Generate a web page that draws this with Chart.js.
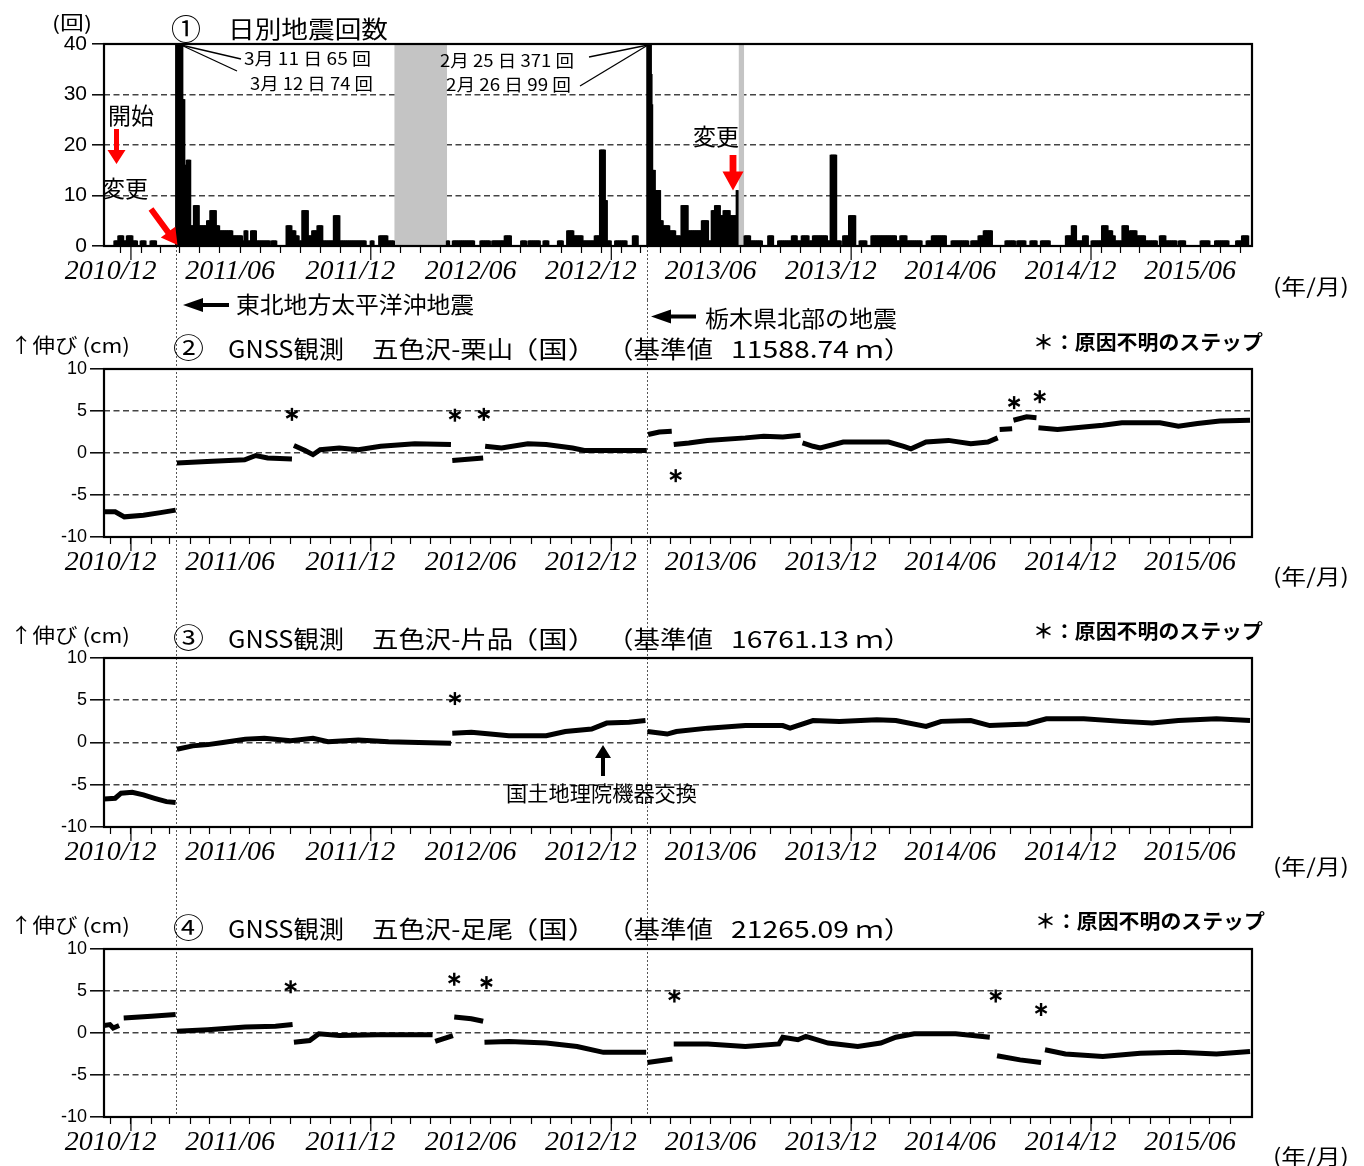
<!DOCTYPE html>
<html><head><meta charset="utf-8">
<script src="https://cdn.jsdelivr.net/npm/chart.js@4.4.1/dist/chart.umd.min.js"></script>
<style>
html,body{margin:0;padding:0;background:#fff;}
#page{position:relative;width:1364px;height:1166px;overflow:hidden;background:#fff;}
#page canvas{position:absolute;left:0;}
.t{position:absolute;white-space:nowrap;font-family:"Noto Sans CJK JP","Noto Sans",sans-serif;line-height:1;color:#000;transform-origin:0 0;}
#ov{position:absolute;left:0;top:0;pointer-events:none;}
</style></head><body>
<div id="page">
<canvas id="c1" width="1364" height="300" style="top:0px;width:1364px;height:300px"></canvas>
<canvas id="c2" width="1364" height="290" style="top:300px;width:1364px;height:290px"></canvas>
<canvas id="c3" width="1364" height="290" style="top:590px;width:1364px;height:290px"></canvas>
<canvas id="c4" width="1364" height="286" style="top:880px;width:1364px;height:286px"></canvas>
<svg id="ov" width="1364" height="1166"></svg>
</div>
<script>
// ---------------- DATA ----------------
const axisStart = '2010-11-21', axisEnd = '2015-09-03';
const tickLabels = ['2010/12','2011/06','2011/12','2012/06','2012/12','2013/06','2013/12','2014/06','2014/12','2015/06'];
const eventDates = ['2011-03-11','2013-02-25'];
const grayFrom = ['2012-02-06','2013-07-14'];
const grayTo   = ['2012-04-25','2013-07-21'];

// daily earthquake counts, as runs of days with the same count
const quakeFrom = ['2010-12-07','2010-12-13','2010-12-21','2010-12-26','2011-01-04','2011-01-16','2011-01-31',
'2011-03-11','2011-03-12','2011-03-13','2011-03-14','2011-03-15','2011-03-16','2011-03-17','2011-03-18','2011-03-19',
'2011-03-21','2011-03-24','2011-03-27','2011-04-02','2011-04-07','2011-04-15','2011-04-27','2011-05-02','2011-05-11',
'2011-05-16','2011-06-05','2011-06-20','2011-06-23','2011-06-28','2011-07-03','2011-07-11','2011-08-03','2011-08-26',
'2011-09-03','2011-09-09','2011-09-14','2011-09-19','2011-09-28','2011-10-04','2011-10-12','2011-10-20','2011-11-06',
'2011-11-15','2012-01-01','2012-01-14','2012-01-27','2012-04-26','2012-05-05','2012-06-16','2012-07-04','2012-07-23',
'2012-08-17','2012-08-28','2012-09-20','2012-10-12','2012-10-26','2012-11-05','2012-11-19','2012-12-07','2012-12-15',
'2012-12-23','2012-12-26','2013-01-07','2013-02-03','2013-02-25','2013-02-26','2013-02-27','2013-02-28','2013-03-01',
'2013-03-02','2013-03-03','2013-03-04','2013-03-05','2013-03-09','2013-03-17','2013-03-21','2013-03-31','2013-04-09',
'2013-04-18','2013-04-28','2013-05-02','2013-05-19','2013-05-29','2013-06-03','2013-06-08','2013-06-16','2013-06-21',
'2013-07-01','2013-07-11','2013-07-23','2013-08-01','2013-08-28','2013-09-12','2013-10-03','2013-10-11','2013-10-18',
'2013-10-29','2013-11-04','2013-11-26','2013-12-01','2013-12-10','2013-12-20','2013-12-29','2014-01-14','2014-02-01',
'2014-02-06','2014-02-18','2014-03-11','2014-03-17','2014-03-27','2014-04-26','2014-05-04','2014-06-03','2014-07-03',
'2014-07-14','2014-07-22','2014-08-24','2014-09-11','2014-10-01','2014-10-17','2014-11-24','2014-12-03','2014-12-10',
'2014-12-20','2015-01-02','2015-01-18','2015-01-27','2015-02-03','2015-02-07','2015-02-18','2015-02-27','2015-03-01',
'2015-03-12','2015-03-16','2015-03-25','2015-04-16','2015-04-25','2015-05-15','2015-06-17','2015-07-09','2015-08-10',
'2015-08-19'];
const quakeTo = ['2010-12-12','2010-12-20','2010-12-25','2011-01-03','2011-01-10','2011-01-23','2011-02-08',
'2011-03-11','2011-03-12','2011-03-13','2011-03-14','2011-03-15','2011-03-16','2011-03-17','2011-03-18','2011-03-20',
'2011-03-23','2011-03-26','2011-04-01','2011-04-06','2011-04-14','2011-04-26','2011-05-01','2011-05-10','2011-05-15',
'2011-06-04','2011-06-19','2011-06-22','2011-06-27','2011-07-02','2011-07-10','2011-07-31','2011-08-10','2011-09-02',
'2011-09-08','2011-09-13','2011-09-18','2011-09-27','2011-10-03','2011-10-11','2011-10-19','2011-11-05','2011-11-14',
'2011-12-24','2012-01-05','2012-01-26','2012-02-05','2012-04-29','2012-06-06','2012-06-30','2012-07-22','2012-08-01',
'2012-08-24','2012-09-14','2012-09-27','2012-10-19','2012-11-04','2012-11-18','2012-12-06','2012-12-14','2012-12-22',
'2012-12-25','2012-12-31','2013-01-24','2013-02-10','2013-02-25','2013-02-26','2013-02-27','2013-02-28','2013-03-01',
'2013-03-02','2013-03-03','2013-03-04','2013-03-08','2013-03-16','2013-03-20','2013-03-30','2013-04-08','2013-04-16',
'2013-04-27','2013-05-01','2013-05-18','2013-05-28','2013-06-02','2013-06-07','2013-06-15','2013-06-20','2013-06-30',
'2013-07-10','2013-07-12','2013-07-31','2013-08-18','2013-09-04','2013-10-02','2013-10-10','2013-10-17','2013-10-28',
'2013-11-03','2013-11-25','2013-11-30','2013-12-09','2013-12-16','2013-12-28','2014-01-07','2014-01-24','2014-02-05',
'2014-02-17','2014-03-10','2014-03-16','2014-03-26','2014-04-18','2014-05-03','2014-05-25','2014-06-28','2014-07-13',
'2014-07-21','2014-08-03','2014-09-07','2014-09-23','2014-10-10','2014-10-30','2014-12-02','2014-12-09','2014-12-19',
'2014-12-27','2015-01-17','2015-01-26','2015-02-02','2015-02-06','2015-02-17','2015-02-26','2015-02-28','2015-03-11',
'2015-03-15','2015-03-24','2015-04-11','2015-04-24','2015-05-11','2015-05-24','2015-06-30','2015-07-29','2015-08-18',
'2015-08-28'];
const quakeCount = [1,2,1,2,1,1,1,
65,74,58,50,46,44,42,41,40,
29,16,17,4,8,4,5,7,4,
3,2,1,3,1,3,1,1,4,
3,2,1,7,2,3,4,1,6,
1,1,2,1,1,1,1,1,2,
1,1,1,1,3,2,1,2,19,
9,1,1,2,371,99,62,50,44,
40,34,28,15,11,5,4,3,2,
8,3,3,5,1,7,8,6,7,
6,11,2,1,2,1,2,1,2,
1,2,1,18,1,2,6,1,2,
2,2,1,2,1,1,2,1,1,
2,3,1,1,1,1,2,4,1,
2,1,4,3,2,1,4,1,3,
2,2,1,2,1,1,1,1,1,
2];

// GNSS baseline: 五色沢-栗山 (null = break at a step)
const kuriDates = ['2010-11-21','2010-12-08','2010-12-22','2011-01-20','2011-02-15','2011-03-10','2011-03-11',
'2011-03-12','2011-04-27','2011-06-23','2011-07-10','2011-07-28','2011-09-03','2011-09-05',
'2011-09-06','2011-09-23','2011-10-05','2011-10-16','2011-11-14','2011-12-13','2012-01-16','2012-03-08','2012-05-02','2012-05-03',
'2012-05-04','2012-06-20','2012-06-21',
'2012-06-23','2012-07-18','2012-08-27','2012-09-24','2012-11-03','2012-11-21','2013-02-24','2013-02-25',
'2013-02-26','2013-03-15','2013-04-03','2013-04-05',
'2013-04-06','2013-04-29','2013-05-27','2013-07-24','2013-08-21','2013-09-19','2013-10-16','2013-10-18',
'2013-10-19','2013-11-04','2013-11-15','2013-12-20','2014-02-27','2014-03-22','2014-04-02','2014-04-25','2014-05-29','2014-07-02','2014-07-28','2014-08-12','2014-08-14',
'2014-08-15','2014-09-03','2014-09-04',
'2014-09-05','2014-09-25','2014-10-10','2014-10-12',
'2014-10-13','2014-11-11','2014-12-21','2015-01-19','2015-02-17','2015-04-16','2015-05-14','2015-06-12','2015-07-16','2015-08-31'];
const kuriValues = [-7.0,-7.0,-7.6,-7.4,-7.1,-6.8,null,
-1.2,-1.0,-0.8,-0.3,-0.6,-0.7,null,
0.9,0.3,-0.2,0.4,0.6,0.4,0.8,1.1,1.0,null,
-0.9,-0.6,null,
0.8,0.6,1.1,1.0,0.6,0.3,0.3,null,
2.2,2.5,2.6,null,
1.0,1.2,1.5,1.8,2.0,1.9,2.1,null,
1.2,0.8,0.6,1.3,1.3,0.8,0.5,1.3,1.5,1.1,1.3,1.8,null,
2.8,2.9,null,
3.9,4.3,4.2,null,
3.0,2.8,3.1,3.3,3.6,3.6,3.2,3.5,3.8,3.9];
const kuriStepDates = ['2011-09-03','2012-05-08','2012-06-21','2013-04-09','2014-09-06','2014-10-15'];
const kuriStepY = [4.6,4.5,4.6,-2.7,6.0,6.7];

// GNSS baseline: 五色沢-片品
const kataDates = ['2010-11-21','2010-12-08','2010-12-17','2011-01-03','2011-01-20','2011-02-06','2011-02-24','2011-03-10','2011-03-11',
'2011-03-12','2011-04-05','2011-04-28','2011-05-21','2011-06-24','2011-07-23','2011-09-01','2011-10-05','2011-10-28','2011-12-13','2012-01-28','2012-03-14','2012-05-02','2012-05-03',
'2012-05-04','2012-06-02','2012-07-01','2012-07-29','2012-09-24','2012-10-23','2012-12-02','2012-12-25','2013-01-28','2013-02-22','2013-02-24',
'2013-02-25','2013-03-27','2013-04-10','2013-05-28','2013-07-24','2013-09-19','2013-09-30','2013-11-04','2013-12-14','2014-02-09','2014-03-10','2014-04-25','2014-05-18','2014-07-02','2014-07-31','2014-09-26','2014-10-25','2014-12-21','2015-02-17','2015-04-04','2015-05-14','2015-07-11','2015-08-31'];
const kataValues = [-6.7,-6.6,-6.0,-5.9,-6.2,-6.6,-7.0,-7.1,null,
-0.8,-0.4,-0.25,0.0,0.4,0.5,0.2,0.5,0.1,0.3,0.1,0.0,-0.1,null,
1.1,1.2,1.0,0.8,0.8,1.3,1.6,2.3,2.4,2.6,null,
1.3,1.0,1.3,1.7,2.0,2.0,1.7,2.6,2.5,2.7,2.6,1.9,2.5,2.6,2.0,2.2,2.8,2.8,2.5,2.3,2.6,2.8,2.6];
const kataStepDates = ['2012-05-08'];
const kataStepY = [5.2];

// GNSS baseline: 五色沢-足尾
const ashioDates = ['2010-11-21','2010-11-30','2010-12-05','2010-12-14','2010-12-17',
'2010-12-21','2011-02-01','2011-03-10','2011-03-11',
'2011-03-12','2011-04-28','2011-06-24','2011-08-09','2011-09-04','2011-09-05',
'2011-09-06','2011-09-30','2011-10-14','2011-11-14','2012-01-11','2012-04-04','2012-04-06',
'2012-04-08','2012-05-05','2012-05-06',
'2012-05-07','2012-06-02','2012-06-20','2012-06-21',
'2012-06-22','2012-07-29','2012-08-27','2012-09-24','2012-11-10','2012-12-20','2013-02-23','2013-02-24',
'2013-02-25','2013-04-04','2013-04-05',
'2013-04-06','2013-05-28','2013-07-24','2013-09-13','2013-09-19','2013-10-12','2013-10-24','2013-11-27','2014-01-11','2014-02-15','2014-03-10','2014-04-07','2014-06-09','2014-07-31','2014-08-09',
'2014-08-11','2014-09-15','2014-10-17','2014-10-20',
'2014-10-23','2014-11-23','2015-01-19','2015-03-17','2015-05-14','2015-07-11','2015-08-31'];
const ashioValues = [0.9,1.0,0.6,0.9,null,
1.8,2.0,2.2,null,
0.2,0.4,0.7,0.8,1.0,null,
-1.1,-0.9,-0.1,-0.3,-0.2,-0.2,null,
-1.0,-0.3,null,
1.9,1.7,1.4,null,
-1.1,-1.0,-1.1,-1.2,-1.6,-2.3,-2.3,null,
-3.5,-3.1,null,
-1.3,-1.3,-1.6,-1.3,-0.5,-0.8,-0.4,-1.2,-1.6,-1.2,-0.5,-0.1,-0.1,-0.5,null,
-2.7,-3.2,-3.5,null,
-2.0,-2.5,-2.8,-2.4,-2.3,-2.5,-2.2];
const ashioStepDates = ['2011-09-01','2012-05-07','2012-06-25','2013-04-07','2014-08-09','2014-10-17'];
const ashioStepY = [5.5,6.4,6.0,4.4,4.4,2.8];

// ---------------- HELPERS ----------------
const BASE = Date.UTC(2011,0,1);
function day(s){const p=s.split('-').map(Number);return (Date.UTC(p[0],p[1]-1,p[2])-BASE)/86400000;}

const monthTicks=[], yearTicks=[], labelFor={};
for(let y=2010,m=12; y<2015 || (y===2015 && m<=8); ){
  const mm=String(m).padStart(2,'0');
  const v=day(y+'-'+mm+'-01');
  monthTicks.push(v);
  if(m===1) yearTicks.push(v);
  const lab=y+'/'+mm;
  if(tickLabels.includes(lab)) labelFor[v]=lab;
  m++; if(m>12){m=1;y++;}
}

function xAxis(){
  return {
    type:'linear', min:day(axisStart), max:day(axisEnd), offset:false,
    afterBuildTicks:s=>{s.ticks=monthTicks.map(v=>({value:v}));},
    ticks:{autoSkip:false,maxRotation:0,minRotation:0,padding:2,color:'#000',
      font:{family:'"Liberation Serif", serif',style:'italic',size:28},
      callback:v=>labelFor[v]||''},
    grid:{display:true,drawOnChartArea:false,drawTicks:true,tickLength:7,tickColor:'#000',tickWidth:1.2},
    border:{display:false},
    afterFit:s=>{s.height=40;}
  };
}

const framePlugin={id:'frame',afterDatasetsDraw(chart){
  const {ctx,chartArea:a}=chart; ctx.save(); ctx.strokeStyle='#000'; ctx.lineWidth=2.2;
  ctx.strokeRect(a.left,a.top,a.right-a.left,a.bottom-a.top); ctx.restore();}};
const yearTickPlugin={id:'yearTicks',afterDraw(chart){
  const {ctx,chartArea:a,scales:{x}}=chart; ctx.save(); ctx.strokeStyle='#000'; ctx.lineWidth=1.2;
  yearTicks.forEach(v=>{const px=x.getPixelForValue(v); ctx.beginPath(); ctx.moveTo(px,a.bottom); ctx.lineTo(px,a.bottom+14); ctx.stroke();});
  ctx.restore();}};
function eventPlugin(mode){return {id:'events',beforeDatasetsDraw(chart){
  const {ctx,chartArea:a,scales:{x}}=chart; let y1=0,y2=chart.height;
  if(mode==='first') y1=a.bottom; if(mode==='last') y2=a.bottom;
  ctx.save(); ctx.strokeStyle='#555'; ctx.lineWidth=1; ctx.setLineDash([2,2]);
  eventDates.forEach(d=>{const px=Math.round(x.getPixelForValue(day(d)))+0.5; ctx.beginPath(); ctx.moveTo(px,y1); ctx.lineTo(px,y2); ctx.stroke();});
  ctx.restore();}};}
const grayPlugin={id:'gray',beforeDatasetsDraw(chart){
  const {ctx,chartArea:a,scales:{x}}=chart; ctx.save(); ctx.fillStyle='#c4c4c4';
  grayFrom.forEach((f,i)=>{const x1=x.getPixelForValue(day(f)), x2=x.getPixelForValue(day(grayTo[i])+1); ctx.fillRect(x1,a.top,x2-x1,a.bottom-a.top);});
  ctx.restore();}};
function starPlugin(dates,ys){return {id:'stars',afterDatasetsDraw(chart){
  const {ctx,scales:{x,y}}=chart; ctx.save(); ctx.strokeStyle='#000'; ctx.lineWidth=2.4;
  dates.forEach((d,i)=>{const px=x.getPixelForValue(day(d)), py=y.getPixelForValue(ys[i]), r=6.5;
    [90,30,150].forEach(a=>{const t=a*Math.PI/180, dx=Math.cos(t)*r, dy=Math.sin(t)*r;
      ctx.beginPath(); ctx.moveTo(px-dx,py-dy); ctx.lineTo(px+dx,py+dy); ctx.stroke();});});
  ctx.restore();}};}

const common={responsive:false,animation:false,devicePixelRatio:1,events:[],
  plugins:{legend:{display:false},tooltip:{enabled:false}}};

// ---------------- CHART 1 ----------------
const quakeDaily=[];
quakeFrom.forEach((f,i)=>{for(let d=day(f);d<=day(quakeTo[i]);d++) quakeDaily.push({x:d,y:quakeCount[i]});});

new Chart(document.getElementById('c1'),{
  type:'bar',
  data:{datasets:[{data:quakeDaily,backgroundColor:'#000',borderWidth:0,barThickness:1.7}]},
  options:Object.assign({},common,{
    layout:{padding:{top:44,left:0,right:112,bottom:14}},
    scales:{
      x:xAxis(),
      y:{min:0,max:40,
        afterBuildTicks:s=>{s.ticks=[0,5,10,15,20,25,30,35,40].map(v=>({value:v}));},
        ticks:{color:'#000',padding:5,font:{family:'"Liberation Sans", sans-serif',size:21},callback:v=>v%10===0?String(v):''},
        grid:{color:c=>(c.tick&&(c.tick.value===0||c.tick.value===40))?'rgba(0,0,0,0)':'#444',lineWidth:1.6,tickLength:12,tickColor:c=>(c.tick&&c.tick.value%10===0)?'#000':'#444',tickWidth:1.5},
        border:{display:false,dash:[6,3.5]},
        afterFit:s=>{s.width=104;}}
    }}),
  plugins:[grayPlugin,eventPlugin('first'),framePlugin,yearTickPlugin]
});

// ---------------- GNSS CHARTS ----------------
function gnss(id,dates,values,sd,sy,padTop,padBottom,mode){
  const data=dates.map((d,i)=>({x:day(d),y:values[i]}));
  new Chart(document.getElementById(id),{
    type:'line',
    data:{datasets:[{data:data,borderColor:'#000',borderWidth:5,pointRadius:0,tension:0,spanGaps:false,fill:false,borderCapStyle:'butt'}]},
    options:Object.assign({},common,{
      layout:{padding:{top:padTop,left:0,right:112,bottom:padBottom}},
      scales:{
        x:xAxis(),
        y:{min:-10,max:10,
          afterBuildTicks:s=>{s.ticks=[-10,-5,0,5,10].map(v=>({value:v}));},
          ticks:{color:'#000',padding:3,font:{family:'"Liberation Sans", sans-serif',size:18},callback:v=>String(v)},
          grid:{color:c=>(c.tick&&Math.abs(c.tick.value)===10)?'rgba(0,0,0,0)':'#444',lineWidth:1.6,tickLength:14,tickColor:'#000',tickWidth:1.5},
          border:{display:false,dash:[6,3.5]},
          afterFit:s=>{s.width=104;}}
      }}),
    plugins:[eventPlugin(mode),framePlugin,yearTickPlugin,starPlugin(sd,sy)]
  });
}
gnss('c2',kuriDates,kuriValues,kuriStepDates,kuriStepY,69,13,'mid');
gnss('c3',kataDates,kataValues,kataStepDates,kataStepY,68,13,'mid');
gnss('c4',ashioDates,ashioValues,ashioStepDates,ashioStepY,69,9,'last');

// ---------------- TEXT ----------------
const page=document.getElementById('page');
const texts=[
 ['(回)',52,13,40,19],['①',171,15,30,29],['日別地震回数',228,17,160,24],
 ['3月 11 日 65 回',244,50,127,17],['3月 12 日 74 回',250,75,123,17],
 ['2月 25 日 371 回',440,52,134,17],['2月 26 日 99 回',446,76,125,17],
 ['開始',108,104,46,23],['変更',102,177,46,23],['変更',693,125,46,23],
 ['(年/月)',1273,276,76,21],
 ['東北地方太平洋沖地震',236,293,238,23],['栃木県北部の地震',705,307,192,23],
 ['国土地理院機器交換',506,783,191,21]
];
const heads=[['②','栗山','11588.74',0,0],['③','片品','16761.13',290,-1],['④','足尾','21265.09',580,-1]];
heads.forEach(h=>{
  const dy=h[3];
  texts.push(['↑伸び (cm)',10,336+dy,120,20]);
  texts.push([h[0],173,335+dy,31,27]);
  texts.push(['GNSS観測',228,337+dy,116,24]);
  texts.push(['五色沢-'+h[1],372,337+dy,141,24]);
  texts.push(['（国）',509,337+dy,88,24]);
  texts.push(['（基準値',607,337+dy,106,24]);
  texts.push([h[2]+' ｍ）',731,337+dy,181,24]);
  texts.push(['＊：原因不明のステップ',1033+(dy===580?2:0),333+dy+h[4],230,20,true]);
  texts.push(['(年/月)',1273,566+dy,76,21]);
});
texts.forEach(L=>{
  const el=document.createElement('div'); el.className='t'; el.textContent=L[0];
  el.style.fontSize=L[4]+'px'; el.style.left=L[1]+'px'; el.style.top=(L[2]-0.06*L[4])+'px';
  if(L[5]) el.style.fontWeight='bold';
  page.appendChild(el);
  const w=el.getBoundingClientRect().width;
  if(w>0) el.style.transform='scaleX('+(L[3]/w).toFixed(3)+')';
});

// ---------------- ANNOTATION SHAPES ----------------
const svg=document.getElementById('ov'); const NS='http://www.w3.org/2000/svg';
function arrow(x0,y0,x1,y1,sh,hl,hh,color){
  const L=Math.hypot(x1-x0,y1-y0), ux=(x1-x0)/L, uy=(y1-y0)/L, px=-uy, py=ux;
  const bx=x1-ux*hl, by=y1-uy*hl;
  const pts=[[x0+px*sh,y0+py*sh],[bx+px*sh,by+py*sh],[bx+px*hh,by+py*hh],[x1,y1],[bx-px*hh,by-py*hh],[bx-px*sh,by-py*sh],[x0-px*sh,y0-py*sh]];
  const p=document.createElementNS(NS,'polygon'); p.setAttribute('points',pts.map(q=>q[0].toFixed(1)+','+q[1].toFixed(1)).join(' '));
  p.setAttribute('fill',color); svg.appendChild(p);
}
function line(x0,y0,x1,y1){const l=document.createElementNS(NS,'line');
  l.setAttribute('x1',x0);l.setAttribute('y1',y0);l.setAttribute('x2',x1);l.setAttribute('y2',y1);
  l.setAttribute('stroke','#000');l.setAttribute('stroke-width','1.3');svg.appendChild(l);}
arrow(116.5,129,116.5,164,2.5,14,9,'#ff0000');
arrow(151,209,177.5,245,3,16,9,'#ff0000');
arrow(733,155,733,190.5,3.4,19,10.5,'#ff0000');
arrow(229,305,183,305,2,20,7,'#000');
arrow(696,316.5,651,316.5,2,20,7,'#000');
arrow(603,776,603,745,2,13,8,'#000');
line(181,45,241,59); line(181,45,237,71);
line(648,45,589,57); line(648,45,580,86);
</script>
</body></html>
